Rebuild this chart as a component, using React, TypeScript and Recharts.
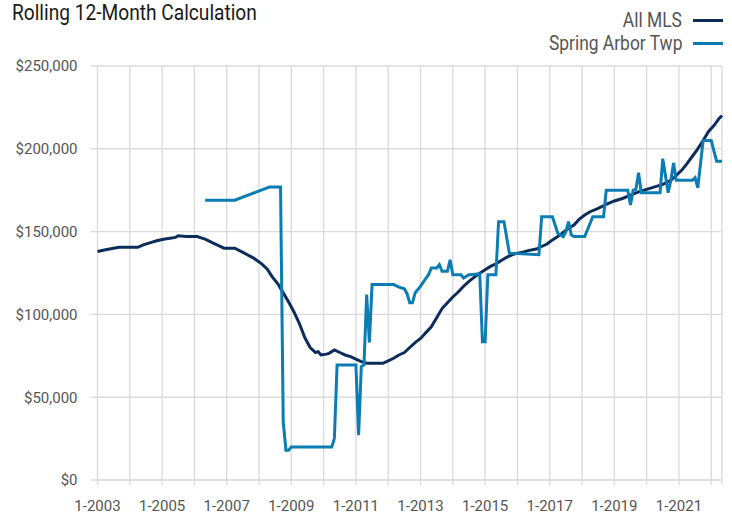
import React from 'react'
import { LineChart, Line, XAxis, YAxis, CartesianGrid } from 'recharts'

// month index: 0 = Jan 2003
const mlsMonths = [
  0, 3, 6, 8, 15, 17, 20, 22, 25, 27, 29, 30, 33, 37, 40, 43, 47, 51, 54, 58,
  61, 63, 65, 67, 69, 71, 73, 75, 77, 79, 81, 82, 83, 85, 86, 88, 90, 92, 94, 96,
  98, 100, 106, 108, 110, 112, 114, 116, 118, 120, 122, 124, 126, 128, 130, 132, 134, 136, 138, 140,
  142, 144, 146, 148, 150, 152, 154, 156, 158, 160, 163, 165, 167, 169, 171, 173, 175, 177, 179, 181,
  183, 186, 189, 192, 195, 198, 201, 204, 207, 210, 213, 215, 217, 219, 221, 223, 225, 227, 229, 231, 232,
]
const mlsValues = [
  138000, 139000, 140000, 140500, 140500, 142000, 143500, 144500, 145500, 146000, 146500, 147500, 147000, 147000, 145500, 143000, 140000, 140000, 137500, 134000,
  130500, 127500, 122500, 118500, 113000, 107500, 101500, 94500, 86000, 80000, 77000, 77500, 75500, 76000, 76500, 78500, 77000, 75500, 74500, 73000,
  71500, 70500, 70500, 72000, 73500, 75500, 77000, 80000, 83000, 85500, 89000, 92500, 98000, 103500, 107000, 110500, 113500, 117000, 120000, 122500,
  124800, 127000, 129000, 130500, 132500, 134500, 136000, 137000, 137500, 138500, 139500, 141000, 142500, 145000, 147000, 149500, 152000, 154000, 157500, 160000,
  162000, 164000, 166500, 168500, 170000, 172000, 174000, 175500, 177000, 178500, 181000, 184000, 187000, 191000, 195500, 200000, 205000, 210500, 214000, 218500, 220000,
]

const satMonths = [
  40, 51, 64, 68, 69, 70, 71, 72, 87, 88, 89, 96, 97, 98, 99, 100, 101, 102, 110, 112,
  114, 115, 116, 117, 118, 120, 121, 123, 124, 126, 127, 128, 130, 131, 132, 135, 136, 138, 142, 143,
  144, 145, 148, 149, 151, 153, 164, 165, 169, 171, 173, 174, 175, 176, 177, 181, 184, 188, 189, 197,
  198, 199, 200, 201, 202, 209, 210, 212, 213, 214, 215, 221, 222, 223, 225, 228, 230, 232,
]
const satValues = [
  169000, 169000, 177000, 177000, 35000, 18000, 18000, 20000, 20000, 25000, 69500, 69500, 27000, 68500, 69500, 112000, 83000, 118000, 118000, 116500,
  115500, 112500, 107000, 107000, 113000, 117000, 119500, 124000, 128000, 128000, 130000, 126000, 126000, 133000, 124000, 124000, 122000, 124000, 124500, 83500,
  83500, 124000, 124000, 156000, 156000, 137000, 136000, 159000, 159000, 149000, 147000, 150000, 156000, 148000, 147000, 147000, 159000, 159000, 175000, 175000,
  166000, 175000, 175500, 185500, 173500, 173500, 194000, 173500, 181000, 191500, 181000, 181000, 182500, 176500, 205000, 205000, 192500, 192500,
]

const yTicks = [0, 50000, 100000, 150000, 200000, 250000]
const xTicks = [0, 12, 24, 36, 48, 60, 72, 84, 96, 108, 120, 132, 144, 156, 168, 180, 192, 204, 216, 228, 232]

const seriesNames = ['All MLS', 'Spring Arbor Twp']
const seriesColors = ['#0c2d5c', '#0b7db3']

const mlsData = mlsMonths.map((t, i) => ({ t, v: mlsValues[i] }))
const satData = satMonths.map((t, i) => ({ t, v: satValues[i] }))

const fmtMoney = (v: number) => '$' + v.toLocaleString('en-US')
const fmtMonth = (t: number) => (t % 24 === 0 && t <= 228 ? `1-${2003 + t / 12}` : '')

export default function App() {
  return (
    <div style={{ position: 'absolute', left: 0, top: 0, width: 732, height: 515, fontFamily: 'Roboto, sans-serif', background: '#fff' }}>
      <div
        style={{
          position: 'absolute', left: 12, top: 2, fontSize: 22, lineHeight: '22px', color: '#1a1a1a',
          transform: 'scaleX(0.87)', transformOrigin: 'left', whiteSpace: 'nowrap',
        }}
      >
        Rolling 12-Month Calculation
      </div>
      {seriesNames.map((name, i) => (
        <React.Fragment key={name}>
          <div
            style={{
              position: 'absolute', right: 50, top: 10 + i * 22.6, fontSize: 20, lineHeight: '20px', color: '#555',
              transform: 'scaleX(0.87)', transformOrigin: 'right', whiteSpace: 'nowrap',
            }}
          >
            {name}
          </div>
          <div style={{ position: 'absolute', left: 693, top: 19 + i * 22.6, width: 30, height: 3, background: seriesColors[i] }} />
        </React.Fragment>
      ))}
      <LineChart width={732} height={515} margin={{ top: 66, right: 10, bottom: 5, left: 0 }}>
        <CartesianGrid stroke="#dcdcdc" strokeWidth={1.4} />
        <XAxis
          type="number"
          dataKey="t"
          domain={[0, 232]}
          ticks={xTicks}
          tickFormatter={fmtMonth}
          interval={0}
          height={30}
          tickSize={5}
          tickMargin={15}
          axisLine={{ stroke: '#dcdcdc', strokeWidth: 1.4 }}
          tickLine={{ stroke: '#dcdcdc', strokeWidth: 1.4 }}
          tick={{ fill: '#555', fontSize: 15 }}
        />
        <YAxis
          domain={[0, 250000]}
          ticks={yTicks}
          tickFormatter={fmtMoney}
          width={97.5}
          tickSize={7}
          tickMargin={13}
          axisLine={false}
          tickLine={{ stroke: '#dcdcdc', strokeWidth: 1.4 }}
          tick={{ fill: '#555', fontSize: 15 }}
        />
        <Line data={mlsData} dataKey="v" name={seriesNames[0]} stroke={seriesColors[0]} strokeWidth={3} dot={false} isAnimationActive={false} />
        <Line data={satData} dataKey="v" name={seriesNames[1]} stroke={seriesColors[1]} strokeWidth={3} dot={false} isAnimationActive={false} />
      </LineChart>
    </div>
  )
}
